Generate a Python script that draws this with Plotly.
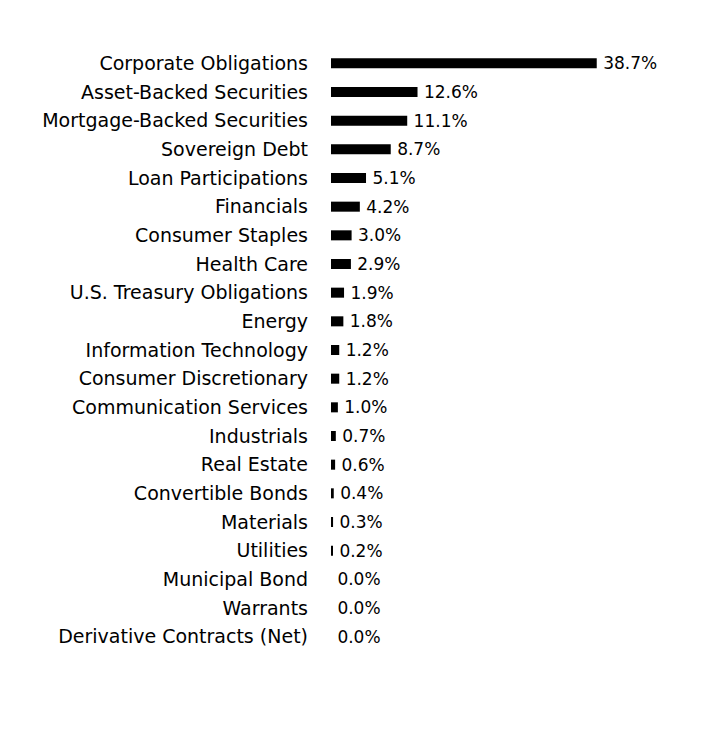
import plotly.graph_objects as go

sectors = [
    "Corporate Obligations", "Asset-Backed Securities", "Mortgage-Backed Securities",
    "Sovereign Debt", "Loan Participations", "Financials", "Consumer Staples",
    "Health Care", "U.S. Treasury Obligations", "Energy", "Information Technology",
    "Consumer Discretionary", "Communication Services", "Industrials", "Real Estate",
    "Convertible Bonds", "Materials", "Utilities", "Municipal Bond", "Warrants",
    "Derivative Contracts (Net)",
]
weights = [38.7, 12.6, 11.1, 8.7, 5.1, 4.2, 3.0, 2.9, 1.9, 1.8, 1.2,
           1.2, 1.0, 0.7, 0.6, 0.4, 0.3, 0.2, 0.0, 0.0, 0.0]
# thin space in front to push the value a little away from the bar end
labels = [f"\u2009{w:.1f}%" for w in weights]

fnt = "DejaVu Sans"

bar = go.Bar(
    x=weights, y=sectors, orientation="h",
    marker=dict(color="#000000", line=dict(width=0)),
    width=0.35,
    text=labels, textposition="outside", cliponaxis=False,
    constraintext="none",
    textfont=dict(family=fnt, size=17, color="#000000"),
)

fig = go.Figure(bar)
# page body has an 8px margin, so shift plot area up/left by 8
fig.update_layout(
    width=708, height=732,
    margin=dict(l=323, r=76, t=41, b=89),
    plot_bgcolor="white", paper_bgcolor="white",
    showlegend=False,
    font=dict(family=fnt, size=19, color="#000000"),
    xaxis=dict(range=[0, 45], visible=False),
    yaxis=dict(autorange="reversed", showgrid=False, zeroline=False,
               showline=False, ticks="", ticklabelstandoff=22),
)
fig.write_html("out.html")
